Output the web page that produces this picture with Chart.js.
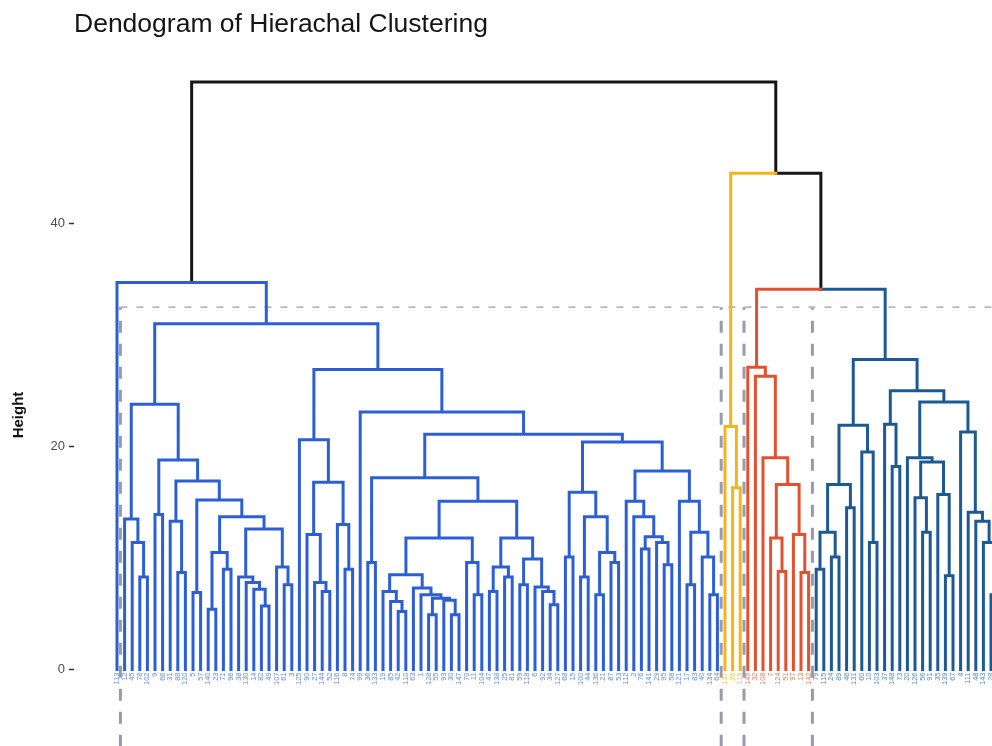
<!DOCTYPE html>
<html><head><meta charset="utf-8">
<script src="https://cdn.jsdelivr.net/npm/chart.js@4.4.1/dist/chart.umd.min.js"></script>
<style>html,body{margin:0;padding:0;background:#fff}#wrap{width:992px;height:746px;position:relative}</style>
</head><body><div id="wrap"><canvas id="c"></canvas></div>
<script>
// ---------------- data ----------------
const chartTitle = "Dendogram of Hierachal Clustering";
const yAxisTitle = "Height";
const yTickValues = [0, 20, 40];
// subtrees written as [mergeHeight, left, right]; plain numbers are leaves (left-to-right order)
const blueTree = [34.7, 1,
 [31.0,
  [23.8,
   [13.5, 2, [11.4, 3, [8.3, 4, 5]]],
   [18.8,
    [13.9, 6, 7],
    [16.9,
     [13.3, 8, [8.7, 9, 10]],
     [15.2,
      [6.9, 11, 12],
      [13.7,
       [10.5, [5.4, 13, 14], [9.0, 15, 16]],
       [12.6,
        [8.3, 17, [7.8, 18, [7.2, 19, [5.7, 20, 21]]]],
        [9.2, 22, [7.6, 23, 24]]]]]]]],
  [26.9,
   [20.6, 25, [16.8, [12.1, 26, [7.8, 27, [7.0, 28, 29]]], [13.0, 30, [9.0, 31, 32]]]],
   [23.1, 33,
    [21.1,
     [17.2,
      [9.6, 34, 35],
      [15.1,
       [11.8,
        [8.5,
         [7.0, 36, [6.1, 37, [5.2, 38, 39]]],
         [7.3, 40, [6.7, 41, [6.4, [4.9, 42, 43], [6.2, 44, [4.9, 45, 46]]]]]],
        [9.6, 47, [6.7, 48, 49]]],
       [11.8,
        [9.2, [7.0, 50, 51], [8.3, 52, 53]],
        [9.9, [7.6, 54, 55], [7.4, 56, [7.0, 57, [5.8, 58, 59]]]]]]],
     [20.4,
      [15.9, [10.1, 60, 61], [13.7, [8.3, 62, 63], [10.5, [6.7, 64, 65], [9.6, 66, 67]]]],
      [17.8,
       [15.1, 68, [13.7, 69, [11.9, [10.8, 70, 71], [11.4, 72, [9.4, 73, 74]]]]],
       [15.1, 75, [12.3, [7.6, 76, 77], [10.1, 78, [6.7, 79, 80]]]]]]]]]]];
const yellowTree = [21.8, 81, [16.3, 82, 83]];
const redTree = [27.1, 84, [26.3, 85, [19.0, 86, [16.6, [11.8, 87, [8.8, 88, 89]], [12.1, 90, [8.7, 91, 92]]]]]];
const navyTree = [27.8,
 [21.9, [16.6, [12.3, [9.0, 93, 94], [10.1, 95, 96]], [14.5, 97, 98]], [19.5, 99, [11.4, 100, 101]]],
 [25.0,
  [22.0, 102, [18.2, 103, 104]],
  [24.0,
   [19.0, 105, [18.6, [15.4, 106, [12.3, 107, 108]], [15.7, 109, [8.4, 110, 111]]]],
   [21.3, 112, [14.1, 113, [13.3, 114, [11.4, 115, [6.7, 116, 117]]]]]]]];
// upper joins: root (blue | rest), yellow | (red+navy), red | navy
const upperHeights = [52.7, 44.5, 34.1];
const cutHeight = 32.5;
// leaf labels, left to right (tiny rotated ids under the leaves)
const leafLabels = ["113","12","45","78","102","9","66","31","88","120","5","57","140","23","71","96","38","130","14","82",
 "49","107","61","3","125","90","27","144","52","116","8","74","99","36","133","19","85","42","110","63",
 "1","128","55","93","30","147","70","11","104","47","138","25","81","59","118","6","92","34","127","68",
 "15","100","44","136","21","87","53","112","2","76","141","29","95","58","121","17","83","40","134","64",
 "137","26","119",
 "145","32","108","7","124","51","97","13","142",
 "79","115","24","89","46","131","60","10","103","37","148","73","20","126","56","91","35","139","67","4",
 "111","48","143","28","84"];

// ---------------- build segments ----------------
const palette = {blue:'#2c5fd3', yellow:'#f4b41c', red:'#e2522f', navy:'#1d5a93', black:'#161616'};
const labelPalette = {blue:'#6a8fe4', yellow:'#f2c254', red:'#ea8165', navy:'#5b8fc6'};
const segs = {blue:[], yellow:[], red:[], navy:[], black:[]};
const leafCluster = [];
let leafCount = 0;
function addPath(key, pts){ segs[key].push(...pts, {x: pts[pts.length-1].x, y: null}); }
function walk(node, key){
  if (typeof node === 'number'){ leafCount++; leafCluster.push(key); return {x: leafCount, h: 0}; }
  const L = walk(node[1], key), R = walk(node[2], key), h = node[0];
  addPath(key, [{x:L.x,y:L.h},{x:L.x,y:h},{x:R.x,y:h},{x:R.x,y:R.h}]);
  return {x:(L.x+R.x)/2, h:h};
}
function join(h, L, R, kL, kR){
  const m = (L.x+R.x)/2;
  addPath(kL, [{x:L.x,y:L.h},{x:L.x,y:h},{x:m,y:h}]);
  addPath(kR, [{x:m,y:h},{x:R.x,y:h},{x:R.x,y:R.h}]);
  return {x:m, h:h};
}
const cB = walk(blueTree,'blue'); const nB = leafCount;
const cY = walk(yellowTree,'yellow'); const nY = leafCount;
const cR = walk(redTree,'red'); const nR = leafCount;
const cN = walk(navyTree,'navy'); const nN = leafCount;
const rn = join(upperHeights[2], cR, cN, 'red', 'navy');
const yrn = join(upperHeights[1], cY, rn, 'yellow', 'black');
join(upperHeights[0], cB, yrn, 'black', 'black');

// cluster rectangles (dashed)
const rectV = [];
[1.45, nB+0.5, nY+0.5, nR+0.5].forEach(x => { rectV.push({x:x,y:-9},{x:x,y:cutHeight},{x:x,y:null}); });
const rectTop = [{x:1.45,y:cutHeight},{x:nN+2,y:cutHeight}];

const datasets = [];
['blue','yellow','red','navy','black'].forEach(k => datasets.push({
  data: segs[k], borderColor: palette[k], borderWidth: 3, pointRadius: 0, spanGaps: false,
  tension: 0, fill: false, borderCapStyle: 'square', borderJoinStyle: 'miter'
}));
datasets.push({data: rectTop, borderColor:'#b3b3dc', borderWidth:1.6, borderDash:[7,9], pointRadius:0, fill:false});
datasets.push({data: rectV, borderColor:'#9a9aae', borderWidth:3, borderDash:[12,11], pointRadius:0, spanGaps:false, fill:false});

const PX0 = 74, PX_LEAF1 = 117, PITCH = 7.6, Y0 = 669.5, PPU = 11.15, TOP = 61, H = 746, W = 992;

const extrasPlugin = {
  id: 'extras',
  afterDatasetsDraw(chart){
    const ctx = chart.ctx, xs = chart.scales.x, ys = chart.scales.y;
    const y0 = ys.getPixelForValue(0);
    ctx.save();
    ctx.font = '7.5px "Liberation Sans", Arial, sans-serif';
    ctx.textAlign = 'right'; ctx.textBaseline = 'middle';
    for (let i = 0; i < leafCount; i++){
      const x = xs.getPixelForValue(i + 1);
      if (x > chart.chartArea.right + 4) continue;
      ctx.save();
      ctx.translate(x, y0 + 3);
      ctx.rotate(-Math.PI / 2);
      ctx.fillStyle = labelPalette[leafCluster[i]];
      ctx.fillText(leafLabels[i] || '', 0, 0);
      ctx.restore();
    }
    ctx.restore();
  },
  afterDraw(chart){
    const ctx = chart.ctx;
    ctx.save();
    ctx.font = 'bold 15px "Liberation Sans", Arial, sans-serif';
    ctx.fillStyle = '#111'; ctx.textAlign = 'center'; ctx.textBaseline = 'middle';
    ctx.translate(19, 415); ctx.rotate(-Math.PI / 2);
    ctx.fillText(yAxisTitle, 0, 0);
    ctx.restore();
  }
};

new Chart(document.getElementById('c'), {
  type: 'line',
  data: { datasets: datasets },
  plugins: [extrasPlugin],
  options: {
    responsive: true, maintainAspectRatio: false, animation: false,
    layout: { padding: 0 },
    plugins: {
      legend: { display: false }, tooltip: { enabled: false },
      title: { display: true, text: chartTitle, align: 'start', fullSize: false, color: '#151515',
               font: { family: 'Liberation Sans, Arial, sans-serif', size: 26.5, weight: 'normal' },
               padding: { top: 9, bottom: 20.2 } }
    },
    scales: {
      x: { type: 'linear', display: false,
           min: 1 - (PX_LEAF1 - PX0) / PITCH, max: 1 + (W - PX_LEAF1) / PITCH },
      y: { type: 'linear', min: -(H - Y0) / PPU, max: (Y0 - TOP) / PPU,
           afterBuildTicks: s => { s.ticks = yTickValues.map(v => ({value: v})); },
           afterFit: s => { s.width = PX0; s.paddingTop = 0; s.paddingBottom = 0; },
           border: { display: false },
           grid: { drawOnChartArea: false, drawTicks: true, tickLength: 5, tickColor: '#333', tickWidth: 1.5 },
           ticks: { color: '#4d4d4d', padding: 4, font: { family: 'Liberation Sans, Arial, sans-serif', size: 13 } },
           title: { display: false } }
    }
  }
});
</script></body></html>
